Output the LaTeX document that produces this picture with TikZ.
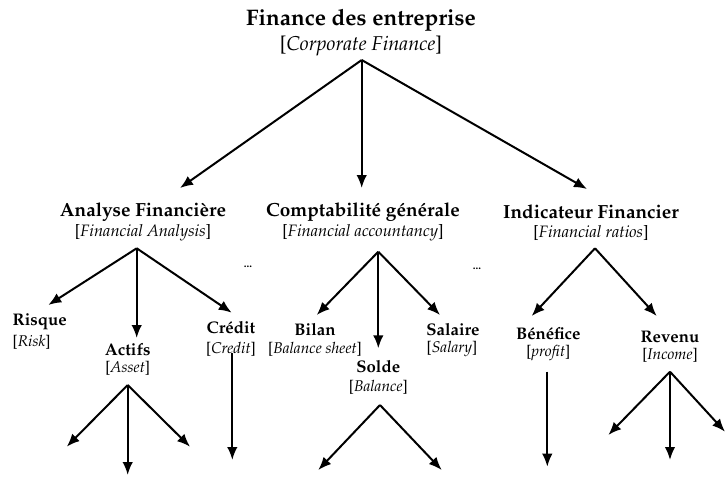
\documentclass[tikz,border=0pt]{standalone}
\usepackage[T1]{fontenc}
\usepackage{mathpazo}
\usetikzlibrary{arrows.meta}
\tikzset{
  arr/.style={line width=2pt,-{Latex[length=13pt,width=10.5pt]}},
  lvA/.style={inner sep=0pt,font=\fontsize{22.5}{24}\selectfont\bfseries},
  lvAs/.style={inner sep=0pt,font=\fontsize{20}{22}\selectfont\itshape},
  lvB/.style={inner sep=0pt,font=\fontsize{19}{21}\selectfont\bfseries},
  lvBs/.style={inner sep=0pt,font=\fontsize{16.5}{18}\selectfont\itshape},
  lvC/.style={inner sep=0pt,font=\fontsize{16.8}{18}\selectfont\bfseries},
  lvCs/.style={inner sep=0pt,font=\fontsize{15.5}{17}\selectfont\itshape},
  dotsn/.style={inner sep=0pt,font=\fontsize{11}{12}\selectfont\bfseries},
}
\newcommand{\br}[1]{\upshape[\itshape #1\/\upshape]}
\begin{document}
\begin{tikzpicture}[x=1pt,y=-1pt]
\useasboundingbox[fill=white] (0,0) rectangle (725,477);
% level 1
\node[lvA] (title) at (361,20) {Finance des entreprise};
\node[lvAs] (titles) at (361,46) {\br{Corporate Finance}};
% level 2
\node[lvB] (analyse) at (143,212) {Analyse Financi\`ere};
\node[lvBs] (analyses) at (143,233) {\br{Financial Analysis}};
\node[lvB] (compta) at (363,212) {Comptabilit\'e g\'en\'erale};
\node[lvBs] (comptas) at (363,233) {\br{Financial accountancy}};
\node[lvB] (indic) at (591,212) {Indicateur Financier};
\node[lvBs] (indics) at (591,233) {\br{Financial ratios}};
% level 3
\node[lvC,anchor=west] (risque) at (12.5,322) {Risque};
\node[lvCs,anchor=west] (risques) at (12.5,342) {\br{Risk}};
\node[lvC] (actifs) at (127.7,350) {Actifs};
\node[lvCs] (actifss) at (127.7,368) {\br{Asset}};
\node[lvC] (credit) at (231,328) {Cr\'edit};
\node[lvCs] (credits) at (231,349) {\br{Credit}};
\node[lvC] (bilan) at (315,330) {Bilan};
\node[lvCs] (bilans) at (315,349) {\br{Balance sheet}};
\node[lvC] (salaire) at (453,330) {Salaire};
\node[lvCs] (salaires) at (452,349) {\br{Salary}};
\node[lvC] (solde) at (378.3,367) {Solde};
\node[lvCs] (soldes) at (378.3,387) {\br{Balance}};
\node[lvC] (benef) at (548.3,334) {B\'en\'efice};
\node[lvCs] (benefs) at (548.3,353) {\br{profit}};
\node[lvC] (revenu) at (670,337) {Revenu};
\node[lvCs] (revenus) at (670,355) {\br{Income}};
\node[dotsn] (dotsA) at (248,267) {...};
\node[dotsn] (dotsB) at (477,269) {...};
% connector points
\coordinate (p0) at (361.7,60);
\coordinate (tA) at (180,188);
\coordinate (tC) at (361.7,188);
\coordinate (tI) at (587,189);
\coordinate (pA) at (136.7,248.3);
\coordinate (tRi) at (48.3,305);
\coordinate (tAc) at (136.7,338);
\coordinate (tCr) at (231.7,312.7);
\coordinate (pC) at (378.3,251.7);
\coordinate (tBi) at (316.7,315);
\coordinate (tSo) at (378.3,348.3);
\coordinate (tSa) at (440,315);
\coordinate (pI) at (595,248.3);
\coordinate (tBe) at (531.7,316);
\coordinate (tRe) at (656.7,316);
\coordinate (pAc) at (127.7,385);
\coordinate (lAc1) at (66.7,446.7);
\coordinate (lAc2) at (127.7,475);
\coordinate (lAc3) at (190,446.7);
\coordinate (pCr) at (232.3,353.3);
\coordinate (lCr) at (232.3,460);
\coordinate (pSo) at (380,405);
\coordinate (lSo1) at (318.3,470);
\coordinate (lSo2) at (441.7,470);
\coordinate (pBe) at (547.3,371.7);
\coordinate (lBe) at (547.3,466.7);
\coordinate (pRe) at (670,371.7);
\coordinate (lRe1) at (608.3,435);
\coordinate (lRe2) at (670,460);
\coordinate (lRe3) at (725,431.7);
% connectors
\draw[arr] (p0) -- (tA);
\draw[arr] (p0) -- (tC);
\draw[arr] (p0) -- (tI);
\draw[arr] (pA) -- (tRi);
\draw[arr] (pA) -- (tAc);
\draw[arr] (pA) -- (tCr);
\draw[arr] (pC) -- (tBi);
\draw[arr] (pC) -- (tSo);
\draw[arr] (pC) -- (tSa);
\draw[arr] (pI) -- (tBe);
\draw[arr] (pI) -- (tRe);
\draw[arr] (pAc) -- (lAc1);
\draw[arr] (pAc) -- (lAc2);
\draw[arr] (pAc) -- (lAc3);
\draw[arr] (pCr) -- (lCr);
\draw[arr] (pSo) -- (lSo1);
\draw[arr] (pSo) -- (lSo2);
\draw[arr] (pBe) -- (lBe);
\draw[arr] (pRe) -- (lRe1);
\draw[arr] (pRe) -- (lRe2);
\draw[arr] (pRe) -- (lRe3);
\end{tikzpicture}
\end{document}
